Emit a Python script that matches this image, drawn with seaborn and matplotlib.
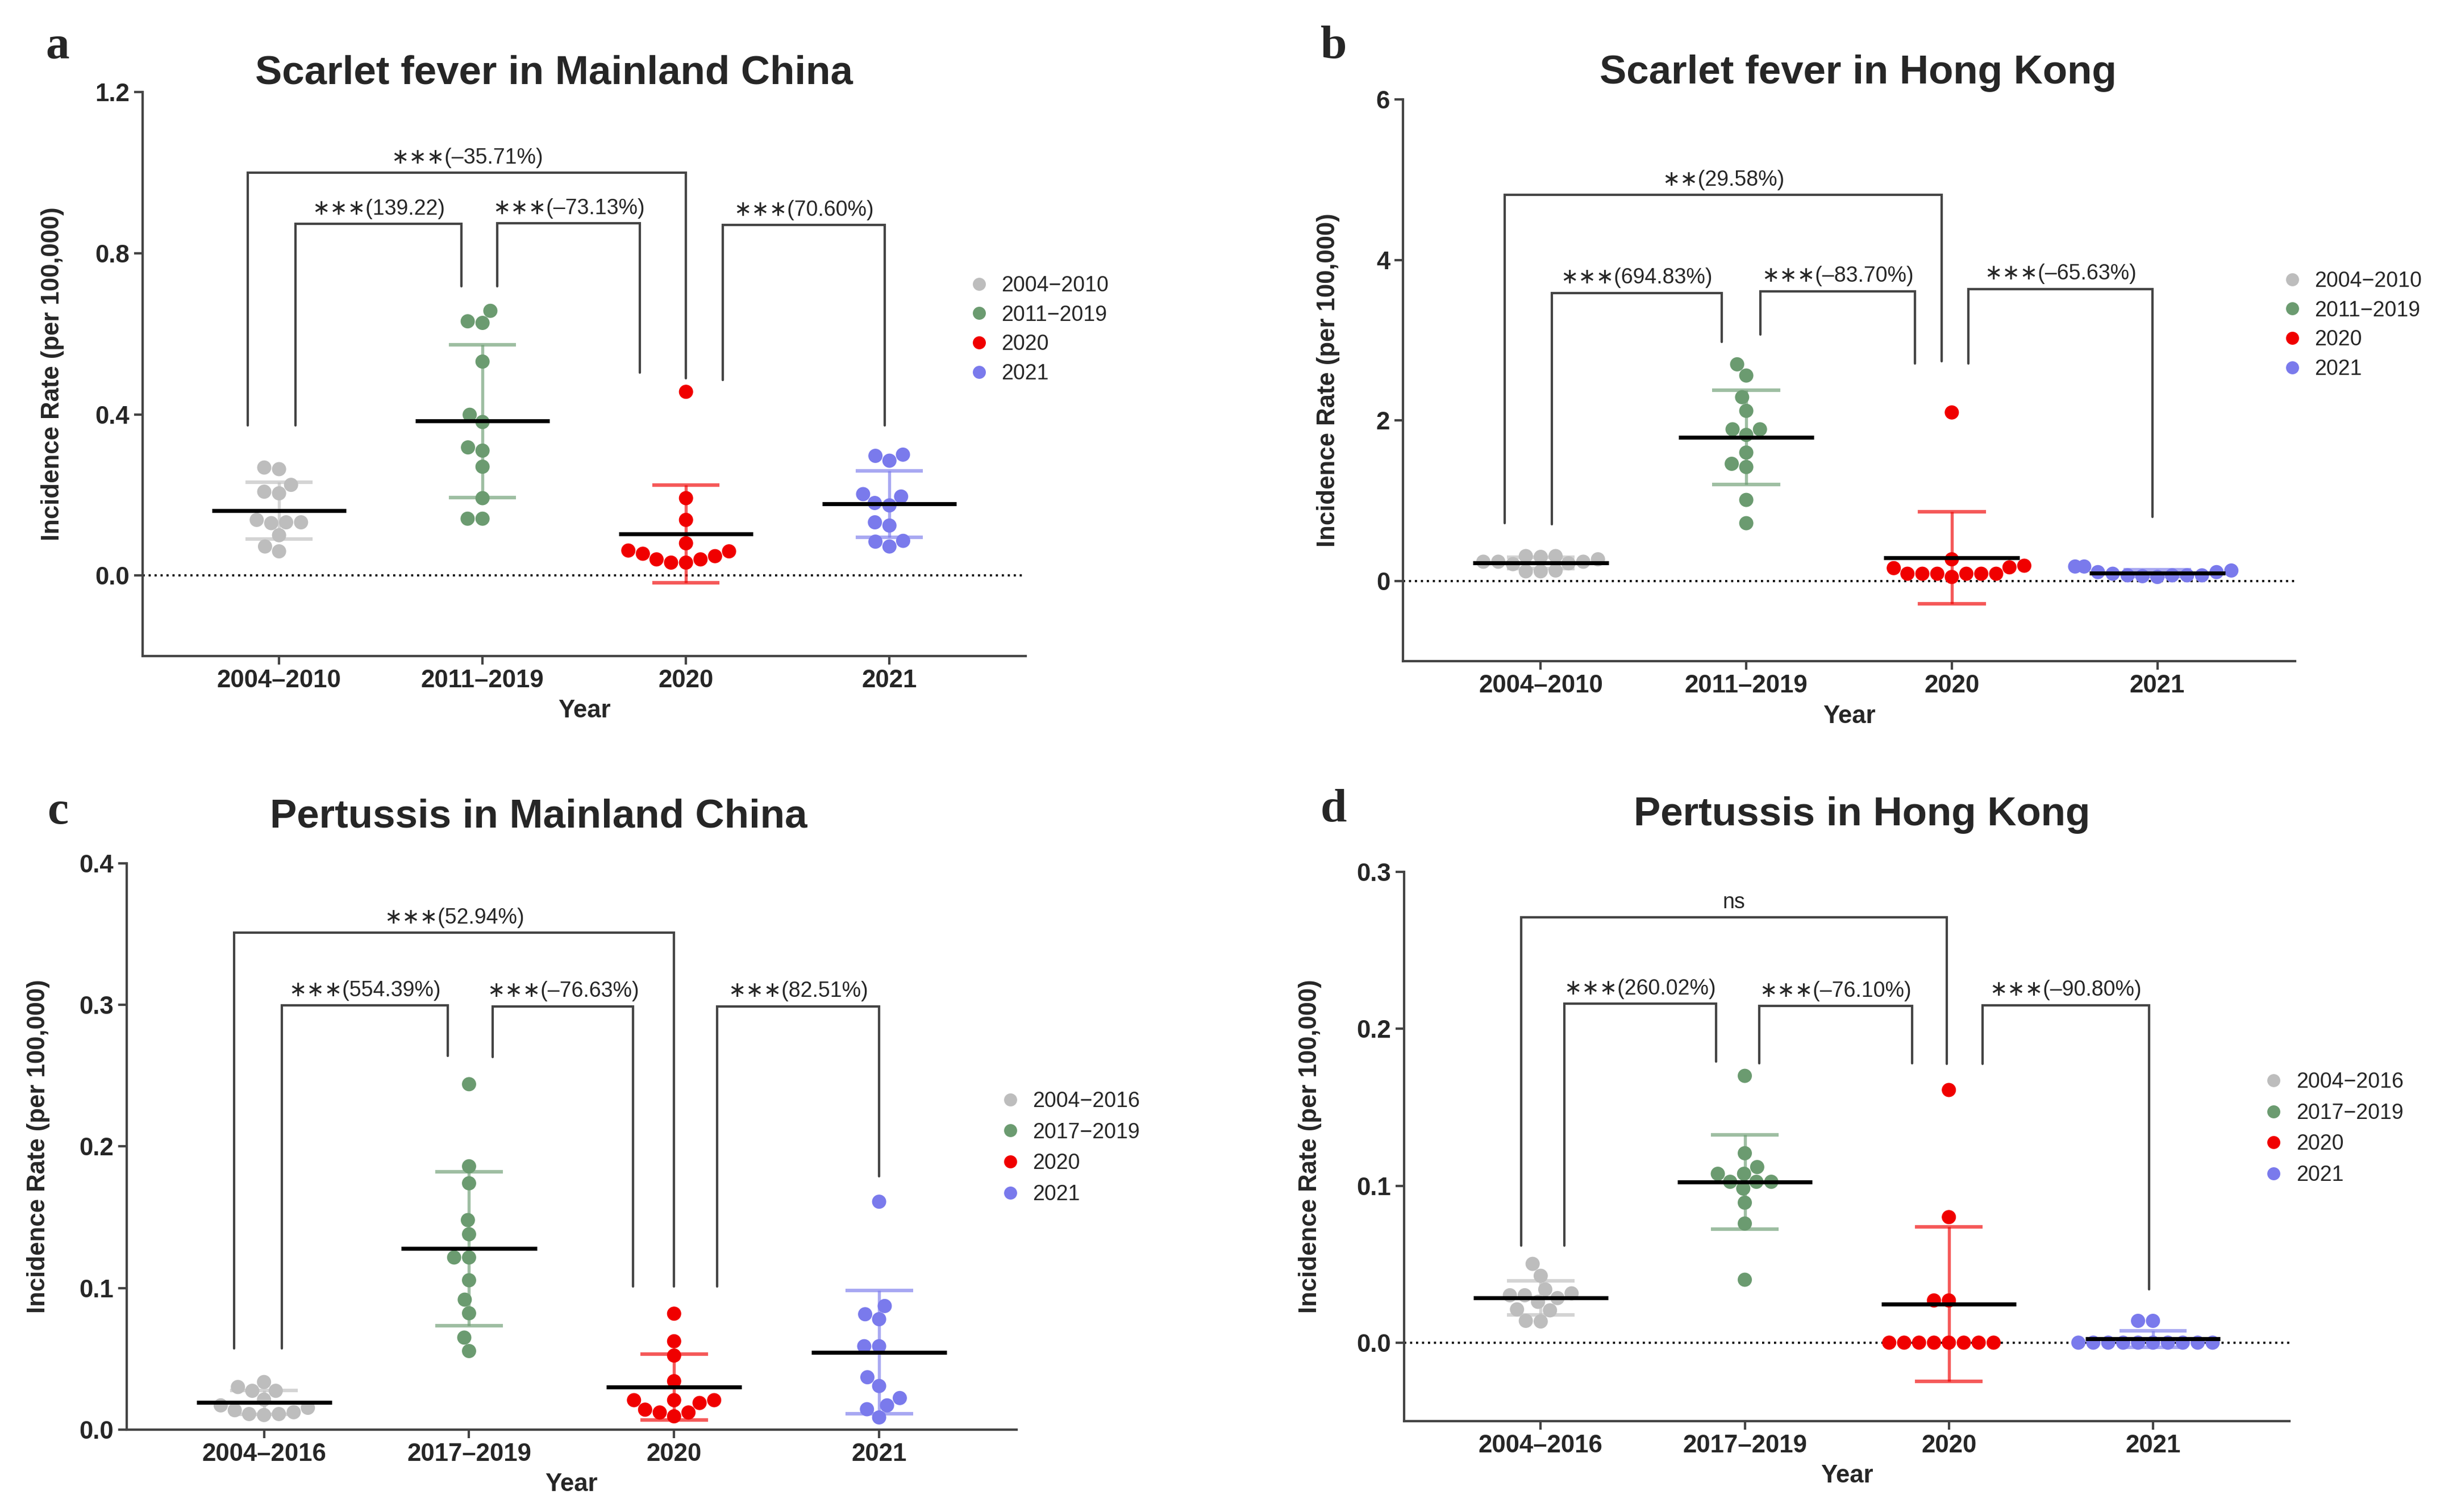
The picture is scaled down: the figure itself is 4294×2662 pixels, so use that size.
import matplotlib
matplotlib.use("Agg")
import matplotlib.pyplot as plt
from matplotlib.lines import Line2D
import pandas as pd
import seaborn as sns
import numpy as np

# --- values (monthly incidence, per 100,000) ---
GROUPS_SF = ["2004–2010", "2011–2019", "2020", "2021"]
GROUPS_PT = ["2004–2016", "2017–2019", "2020", "2021"]
LEGEND_SF = ["2004−2010", "2011−2019", "2020", "2021"]
LEGEND_PT = ["2004−2016", "2017−2019", "2020", "2021"]

# a: scarlet fever, mainland China
sf_cn_0410 = [0.264, 0.268, 0.225, 0.204, 0.208, 0.138, 0.132, 0.132, 0.130, 0.100, 0.072, 0.060]
sf_cn_1119 = [0.657, 0.627, 0.631, 0.531, 0.399, 0.381, 0.318, 0.310, 0.270, 0.192, 0.141, 0.141]
sf_cn_2020 = [0.456, 0.192, 0.138, 0.080, 0.060, 0.062, 0.054, 0.048, 0.040, 0.040, 0.032, 0.032]
sf_cn_2021 = [0.297, 0.300, 0.285, 0.202, 0.196, 0.180, 0.174, 0.132, 0.124, 0.086, 0.084, 0.072]

# b: scarlet fever, Hong Kong
sf_hk_0410 = [0.21, 0.31, 0.24, 0.24, 0.30, 0.12, 0.24, 0.31, 0.13, 0.22, 0.27, 0.12]
sf_hk_1119 = [2.70, 2.56, 2.29, 2.12, 1.89, 1.89, 1.82, 1.60, 1.42, 1.46, 1.01, 0.72]
sf_hk_2020 = [2.10, 0.27, 0.19, 0.17, 0.16, 0.09, 0.09, 0.09, 0.09, 0.09, 0.09, 0.05]
sf_hk_2021 = [0.07, 0.18, 0.11, 0.18, 0.05, 0.13, 0.07, 0.07, 0.06, 0.09, 0.11, 0.07]

# c: pertussis, mainland China
pt_cn_0416 = [0.0336, 0.0274, 0.0301, 0.0274, 0.0212, 0.0154, 0.0171, 0.0137, 0.0110, 0.0110, 0.0103, 0.0123]
pt_cn_1719 = [0.244, 0.186, 0.174, 0.148, 0.138, 0.1216, 0.1216, 0.1055, 0.0918, 0.0822, 0.065, 0.0555]
pt_cn_2020 = [0.0819, 0.0624, 0.0523, 0.0342, 0.0208, 0.0208, 0.0208, 0.0188, 0.0121, 0.0121, 0.0141, 0.0094]
pt_cn_2021 = [0.161, 0.0873, 0.0815, 0.078, 0.0589, 0.0589, 0.037, 0.0308, 0.0223, 0.0171, 0.0144, 0.0086]

# d: pertussis, Hong Kong
pt_hk_0416 = [0.0502, 0.0426, 0.0339, 0.0314, 0.0302, 0.0302, 0.0284, 0.0260, 0.0206, 0.0212, 0.0135, 0.0139]
pt_hk_1719 = [0.170, 0.1207, 0.1119, 0.1076, 0.1076, 0.1025, 0.1025, 0.1025, 0.0982, 0.0892, 0.0759, 0.0401]
pt_hk_2020 = [0.161, 0.080, 0.0269, 0.0269, 0, 0, 0, 0, 0, 0, 0, 0]
pt_hk_2021 = [0.0139, 0.0139, 0, 0, 0, 0, 0, 0, 0, 0, 0, 0]

# comparison labels (outer bracket first, then left to right)
LABELS_A = ["∗∗∗(–35.71%)", "∗∗∗(139.22)", "∗∗∗(–73.13%)", "∗∗∗(70.60%)"]
LABELS_B = ["∗∗(29.58%)", "∗∗∗(694.83%)", "∗∗∗(–83.70%)", "∗∗∗(–65.63%)"]
LABELS_C = ["∗∗∗(52.94%)", "∗∗∗(554.39%)", "∗∗∗(–76.63%)", "∗∗∗(82.51%)"]
LABELS_D = ["ns", "∗∗∗(260.02%)", "∗∗∗(–76.10%)", "∗∗∗(–90.80%)"]

COLORS = ["#BDBDBD", "#6B9B70", "#F00000", "#7A7AEC"]
NARROW = ["Liberation Sans Narrow", "Liberation Sans", "DejaVu Sans"]


def draw_panel(ax, groups, values, legend_labels, ylim, yticks, yticklabels,
               brackets, labels, leg_anchor, leg_space, ylab_x, zero_line=True):
    df = pd.DataFrame({
        "Year": np.repeat(groups, [len(v) for v in values]),
        "rate": np.concatenate(values),
    })
    pal = dict(zip(groups, COLORS))
    sns.swarmplot(data=df, x="Year", y="rate", hue="Year", order=groups,
                  hue_order=groups, palette=pal, size=6.0, legend=False,
                  ax=ax, zorder=3, warn_thresh=1)

    # mean +- SD
    for i, v in enumerate(values):
        m = np.mean(v)
        s = np.std(v, ddof=1)
        ax.vlines(i, m - s, m + s, color=COLORS[i], alpha=0.65, lw=1.3, zorder=4)
        ax.hlines([m - s, m + s], i - 0.165, i + 0.165, color=COLORS[i],
                  alpha=0.65, lw=1.5, zorder=4)
        ax.hlines(m, i - 0.33, i + 0.33, color="black", lw=1.7, zorder=5)

    if zero_line:
        ax.axhline(0, color="black", lw=0.9, ls=(0, (1, 1.8)), zorder=1)

    for (x0, x1, y, yl, yr), lab in zip(brackets, labels):
        ax.plot([x0, x0, x1, x1], [yl, y, y, yr], color="#444444", lw=1.0,
                solid_joinstyle="miter", zorder=2)
        ax.annotate(lab, ((x0 + x1) / 2, y), xytext=(0, 2),
                    textcoords="offset points", ha="center", va="bottom",
                    fontsize=9, family=NARROW)

    ax.set_xlim(-0.67, 3.67)
    ax.set_ylim(*ylim)
    ax.set_yticks(yticks, labels=yticklabels, fontweight="bold")
    ax.set_xticks(range(4), labels=groups, fontweight="bold")
    ax.tick_params(axis="both", length=3.5, width=1.0, color="#444444",
                   labelsize=10.5, pad=2)
    sns.despine(ax=ax)
    for sp in ["left", "bottom"]:
        ax.spines[sp].set_color("#444444")
        ax.spines[sp].set_linewidth(1.0)
    ax.set_xlabel("Year", fontsize=10.5, fontweight="bold", labelpad=3)
    ax.set_ylabel("Incidence Rate (per 100,000)", fontsize=10.5, fontweight="bold")
    ax.yaxis.set_label_coords(ylab_x, 0.5)

    handles = [Line2D([], [], marker="o", ls="", markersize=5.5,
                      color=c, markeredgewidth=0) for c in COLORS]
    ax.legend(handles, legend_labels, loc="upper left", bbox_to_anchor=leg_anchor,
              frameon=False, fontsize=9, handlelength=1.0, handletextpad=0.55,
              borderpad=0, borderaxespad=0, labelspacing=leg_space)


sns.set_theme(style="ticks")
plt.rcParams["font.family"] = ["Liberation Sans", "DejaVu Sans"]

fig = plt.figure(figsize=(4294 / 300, 2662 / 300), dpi=300)
ax_a = fig.add_axes([0.0585, 0.5661, 0.3619, 0.373])
ax_b = fig.add_axes([0.575, 0.5627, 0.3656, 0.3715])
ax_c = fig.add_axes([0.0519, 0.0545, 0.3647, 0.3745])
ax_d = fig.add_axes([0.5754, 0.0601, 0.363, 0.3633])

draw_panel(ax_a, GROUPS_SF, [sf_cn_0410, sf_cn_1119, sf_cn_2020, sf_cn_2021], LEGEND_SF,
           (-0.2, 1.2), [0, 0.4, 0.8, 1.2], ["0.0", "0.4", "0.8", "1.2"],
           [(-0.154, 2.0, 1.0, 0.372, 0.49),
            (0.08, 0.896, 0.873, 0.372, 0.718),
            (1.073, 1.773, 0.874, 0.718, 0.504),
            (2.18, 2.977, 0.870, 0.486, 0.372)],
           LABELS_A, (0.935, 0.675), 0.42, -0.089)

draw_panel(ax_b, GROUPS_SF, [sf_hk_0410, sf_hk_1119, sf_hk_2020, sf_hk_2021], LEGEND_SF,
           (-1, 6), [0, 2, 4, 6], ["0", "2", "4", "6"],
           [(-0.175, 1.95, 4.81, 0.72, 2.74),
            (0.053, 0.88, 3.59, 0.71, 2.98),
            (1.07, 1.82, 3.61, 3.07, 2.71),
            (2.08, 2.975, 3.64, 2.71, 0.80)],
           LABELS_B, (0.985, 0.695), 0.42, -0.071)

draw_panel(ax_c, GROUPS_PT, [pt_cn_0416, pt_cn_1719, pt_cn_2020, pt_cn_2021], LEGEND_PT,
           (0, 0.4), [0, 0.1, 0.2, 0.3, 0.4], ["0.0", "0.1", "0.2", "0.3", "0.4"],
           [(-0.146, 2.0, 0.351, 0.0575, 0.101),
            (0.088, 0.897, 0.2997, 0.0575, 0.264),
            (1.115, 1.80, 0.299, 0.263, 0.101),
            (2.21, 3.0, 0.299, 0.101, 0.179)],
           LABELS_C, (0.981, 0.598), 0.5, -0.086, zero_line=False)

draw_panel(ax_d, GROUPS_PT, [pt_hk_0416, pt_hk_1719, pt_hk_2020, pt_hk_2021], LEGEND_PT,
           (-0.05, 0.3), [0, 0.1, 0.2, 0.3], ["0.0", "0.1", "0.2", "0.3"],
           [(-0.095, 1.99, 0.271, 0.0617, 0.1775),
            (0.115, 0.86, 0.216, 0.0617, 0.179),
            (1.07, 1.82, 0.2145, 0.178, 0.178),
            (2.165, 2.98, 0.215, 0.1775, 0.034)],
           LABELS_D, (0.970, 0.636), 0.5, -0.093)

# titles and panel letters
title_kw = dict(fontsize=17, fontweight="bold", ha="center", va="center")
fig.text(0.227, 0.9515, "Scarlet fever in Mainland China", **title_kw)
fig.text(0.7616, 0.9515, "Scarlet fever in Hong Kong", **title_kw)
fig.text(0.2207, 0.4598, "Pertussis in Mainland China", **title_kw)
fig.text(0.7632, 0.461, "Pertussis in Hong Kong", **title_kw)

letter_kw = dict(fontsize=20, fontweight="bold", family=["Liberation Serif", "DejaVu Serif"],
                 ha="center", va="center")
fig.text(0.0236, 0.969, "a", **letter_kw)
fig.text(0.5466, 0.969, "b", **letter_kw)
fig.text(0.0236, 0.4628, "c", **letter_kw)
fig.text(0.5466, 0.464, "d", **letter_kw)

fig.savefig("out.png", dpi=300)
